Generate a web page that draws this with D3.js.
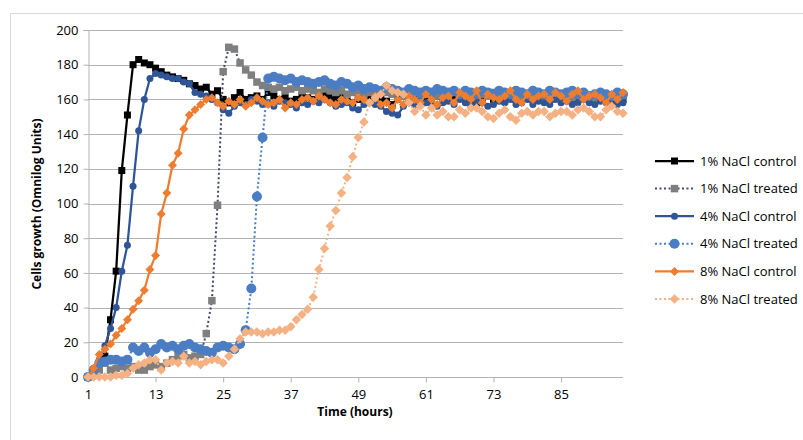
<!DOCTYPE html>
<html>
<head>
<meta charset="utf-8">
<script src="https://d3js.org/d3.v7.min.js"></script>
<style>
  body { margin: 0; background: #fff; }
  text { font-family: "Open Sans", "Liberation Sans", sans-serif; fill: #000; }
</style>
</head>
<body>
<svg id="chart" width="803" height="440"></svg>
<script>
// Hours 1..96
const hours = d3.range(1, 97);
const xTicks = [1, 13, 25, 37, 49, 61, 73, 85];
const yTicks = [0, 20, 40, 60, 80, 100, 120, 140, 160, 180, 200];

const names = ["1% NaCl control", "1% NaCl treated", "4% NaCl control",
               "4% NaCl treated", "8% NaCl control", "8% NaCl treated"];

const ctrl1 = [0, 2, 5, 12, 33, 61, 119, 151, 180, 183,
  181, 180, 178, 176, 174, 173, 172, 171, 169, 168,
  166, 167, 163, 165, 160, 158, 161, 164, 160, 161,
  162, 160, 164, 162, 160, 161, 159, 160, 162, 161,
  160, 162, 163, 161, 160, 161, 159, 158, 160, 162,
  161, 163, 160, 159, 157, 160, 162, 161, 163, 160,
  161, 160, 162, 159, 160, 161, 163, 162, 160, 158,
  161, 163, 160, 161, 159, 162, 160, 161, 163, 160,
  162, 160, 161, 163, 162, 160, 159, 161, 163, 160,
  161, 162, 160, 159, 161, 160];

const treat1 = [0, 2, 4, 8, 4, 5, 6, 5, 6, 4,
  4, 6, 7, 6, 8, 10, 12, 13, 11, 12,
  13, 25, 44, 99, 176, 190, 189, 181, 177, 174,
  170, 168, 167, 166, 167, 165, 166, 167, 165, 166,
  165, 164, 166, 165, 164, 165, 163, 164, 165, 163,
  164, 163, 165, 164, 163, 164, 162, 163, 164, 162,
  163, 164, 162, 163, 162, 164, 163, 162, 163, 161,
  163, 162, 164, 163, 162, 161, 163, 162, 163, 162,
  163, 161, 162, 163, 162, 163, 161, 162, 163, 162,
  161, 163, 162, 161, 163, 162];

const ctrl4 = [0, 5, 10, 18, 28, 40, 61, 76, 110, 142,
  160, 172, 175, 174, 173, 172, 172, 170, 169, 164,
  163, 162, 160, 158, 154, 152, 156, 158, 157, 160,
  159, 157, 158, 156, 159, 158, 157, 155, 158, 157,
  159, 158, 160, 158, 156, 157, 158, 155, 154, 157,
  158, 157, 156, 153, 152, 151, 156, 158, 157, 159,
  158, 157, 156, 158, 159, 157, 160, 158, 156, 159,
  158, 156, 157, 159, 158, 160, 157, 158, 160, 157,
  159, 158, 157, 160, 158, 159, 157, 158, 160, 158,
  157, 159, 158, 160, 157, 158];

const treat4 = [0, 4, 8, 9, 10, 10, 9, 10, 17, 15,
  17, 14, 16, 19, 17, 18, 16, 18, 19, 17,
  16, 15, 14, 17, 18, 17, 16, 19, 27, 51,
  104, 138, 172, 173, 172, 171, 172, 170, 171, 170,
  169, 170, 171, 169, 168, 170, 169, 167, 168, 166,
  167, 166, 165, 167, 166, 165, 164, 166, 165, 164,
  165, 164, 166, 165, 164, 165, 163, 165, 164, 163,
  165, 164, 163, 165, 164, 163, 165, 164, 163, 165,
  164, 163, 165, 164, 163, 164, 165, 163, 164, 162,
  163, 164, 163, 162, 164, 163];

const ctrl8 = [0, 5, 13, 16, 19, 24, 28, 33, 39, 44,
  50, 62, 70, 94, 106, 122, 129, 143, 151, 154,
  157, 160, 161, 158, 156, 159, 157, 160, 156, 158,
  161, 159, 157, 158, 160, 155, 158, 157, 160, 161,
  159, 162, 160, 158, 157, 160, 159, 158, 161, 160,
  158, 162, 157, 158, 155, 160, 157, 162, 160, 158,
  163, 160, 157, 161, 162, 158, 164, 162, 160, 165,
  158, 163, 161, 160, 162, 165, 160, 158, 163, 160,
  162, 163, 160, 164, 162, 159, 163, 165, 160, 162,
  163, 161, 158, 163, 160, 164];

const treat8 = [0, 0, 0, 0, 0, 1, 1, 2, 5, 7,
  8, 10, 10, 4, 8, 9, 8, 12, 8, 9,
  7, 9, 10, 10, 8, 12, 16, 22, 26, 26,
  26, 25, 26, 26, 27, 27, 29, 33, 36, 39,
  46, 62, 74, 87, 96, 106, 115, 127, 138, 147,
  158, 161, 163, 168, 165, 164, 163, 158, 153, 156,
  151, 155, 151, 153, 150, 150, 154, 152, 155, 155,
  153, 150, 149, 152, 154, 150, 148, 152, 153, 151,
  153, 153, 150, 152, 153, 153, 151, 154, 155, 153,
  150, 150, 154, 156, 153, 152];

const series = [
  {name: names[0], values: ctrl1,  line: "#000000", marker: "#000000", dash: null, shape: "square",  size: 7},
  {name: names[1], values: treat1, line: "#3E4C6C", marker: "#7F7F7F", dash: "2,2.5", shape: "square", size: 7.5},
  {name: names[2], values: ctrl4,  line: "#2F5597", marker: "#2F5597", dash: null, shape: "circle",  size: 7},
  {name: names[3], values: treat4, line: "#4A7DC3", marker: "#4A7DC3", dash: "2,2.5", shape: "circle", size: 10},
  {name: names[4], values: ctrl8,  line: "#ED7D31", marker: "#ED7D31", dash: null, shape: "diamond", size: 9},
  {name: names[5], values: treat8, line: "#F4B183", marker: "#F4B183", dash: "2,2.5", shape: "diamond", size: 9.5}
];

const svg = d3.select("#chart");

// Chart area border (only top/left visible in frame)
svg.append("path")
    .attr("d", "M10.5,460V13.5H820")
    .attr("fill", "none")
    .attr("stroke", "#D9D9D9")
    .attr("stroke-width", 1);

const x = d3.scalePoint().domain(hours).range([88, 623]);
const y = d3.scaleLinear().domain([0, 200]).range([377, 30]);

// Gridlines
svg.append("g")
  .selectAll("line")
  .data(yTicks.filter(d => d > 0))
  .join("line")
    .attr("x1", 88).attr("x2", 623)
    .attr("y1", d => Math.round(y(d)) + 0.5).attr("y2", d => Math.round(y(d)) + 0.5)
    .attr("stroke", "#B3B3B3")
    .attr("stroke-width", 1);

// Y axis
const yAxis = svg.append("g")
    .attr("transform", "translate(88.5,0)")
    .call(d3.axisLeft(y).tickValues(yTicks).tickSize(5).tickPadding(5));
yAxis.select(".domain").attr("stroke", "#B3B3B3");
yAxis.selectAll(".tick line").attr("stroke", "#B3B3B3");
yAxis.selectAll("text").attr("font-size", 13).attr("font-family", "Open Sans");

// X axis
const xAxis = svg.append("g")
    .attr("transform", "translate(0,377.5)")
    .call(d3.axisBottom(x).tickValues(xTicks).tickSize(5).tickPadding(7));
xAxis.select(".domain").attr("stroke", "#B3B3B3").attr("d", "M88,0H623");
xAxis.selectAll(".tick line").attr("stroke", "#B3B3B3");
xAxis.selectAll("text").attr("font-size", 13).attr("font-family", "Open Sans");

// Axis titles
svg.append("text")
    .attr("transform", "translate(41,204)rotate(-90)")
    .attr("text-anchor", "middle")
    .attr("font-size", 12)
    .attr("font-weight", "bold")
    .text("Cells growth (Omnilog Units)");

svg.append("text")
    .attr("x", 355).attr("y", 416)
    .attr("text-anchor", "middle")
    .attr("font-size", 12)
    .attr("font-weight", "bold")
    .text("Time (hours)");

function markerPath(shape, size) {
  if (shape === "square") return d3.symbol().type(d3.symbolSquare).size(size * size)();
  if (shape === "circle") return d3.symbol().type(d3.symbolCircle).size(Math.PI * size * size / 4)();
  const r = size / 2;
  return "M0," + (-r) + "L" + r + ",0L0," + r + "L" + (-r) + ",0Z";
}

const line = d3.line()
    .x((d, i) => x(hours[i]))
    .y(d => y(d));

// Series, drawn in legend order
series.forEach(s => {
  const g = svg.append("g");
  g.append("path")
      .attr("d", line(s.values))
      .attr("fill", "none")
      .attr("stroke", s.line)
      .attr("stroke-width", s.dash ? 2 : 2.25)
      .attr("stroke-dasharray", s.dash)
      .attr("stroke-linejoin", "round");
  g.selectAll("path.m")
    .data(s.values)
    .join("path")
      .attr("class", "m")
      .attr("transform", (d, i) => "translate(" + x(hours[i]) + "," + y(d) + ")")
      .attr("d", markerPath(s.shape, s.size))
      .attr("fill", s.marker);
});

// Legend
const legend = svg.append("g")
  .selectAll("g")
  .data(series)
  .join("g")
    .attr("transform", (d, i) => "translate(655," + (161 + i * 27.6) + ")");

legend.append("line")
    .attr("x1", 0).attr("x2", 39)
    .attr("stroke", d => d.line)
    .attr("stroke-width", d => d.dash ? 2 : 2.25)
    .attr("stroke-dasharray", d => d.dash);

legend.append("path")
    .attr("transform", "translate(19.5,0)")
    .attr("d", d => markerPath(d.shape, d.size))
    .attr("fill", d => d.marker);

legend.append("text")
    .attr("x", 45)
    .attr("dy", "0.35em")
    .attr("font-size", 13)
    .text(d => d.name);
</script>
</body>
</html>
